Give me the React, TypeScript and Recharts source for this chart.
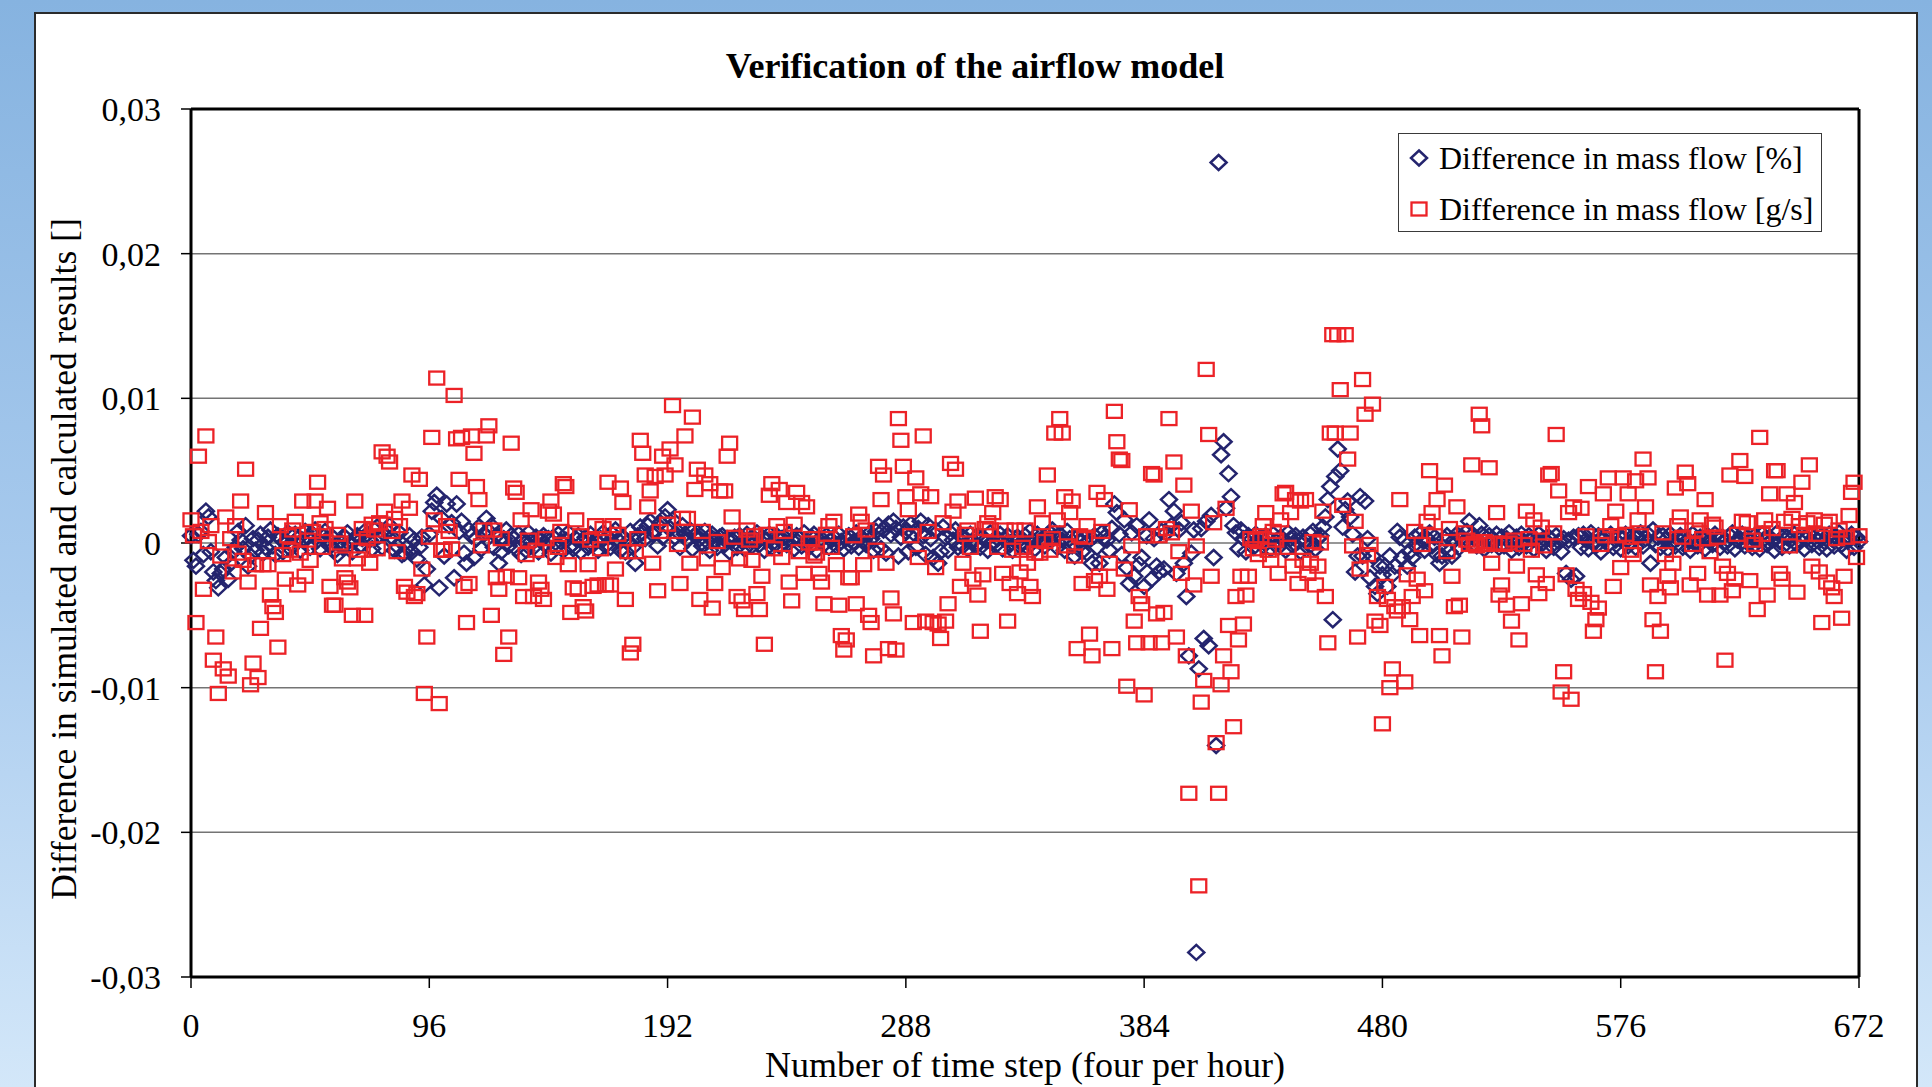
import React from 'react';
import { ScatterChart, Scatter, XAxis, YAxis, CartesianGrid, ReferenceLine } from 'recharts';

const FONT = "'Liberation Serif', 'Times New Roman', Times, serif";
const BLUE = '#24246e';
const RED = '#ec2227';

// time steps 0..672 (four per hour, one week)
const steps = Array.from({ length: 673 }, (_, i) => i);
const xTicks = [0, 96, 192, 288, 384, 480, 576, 672];
const yTicks = [-0.03, -0.02, -0.01, 0, 0.01, 0.02, 0.03];

// difference in mass flow [%], in units of 0.0001
const pctDiff = [
  5, -12, -16, 6, 8, -8, 22, 18, -6, -20, -26, -31, -21, -18, -10, -25, -14, -6, -3, 8, 2, -4, 12, -16,
  -9, 3, -5, 2, 6, -7, -3, 4, 9, -2, -8, 5, 3, -6, 1, 7, -4, -2, 6, 3, -5, 2, 8, 4,
  -3, 6, 9, 2, -4, 5, 8, 3, -2, 4, -5, -8, 1, -3, 4, 7, -1, -6, 2, 5, -2, 3, 8, 6,
  2, -4, 9, 11, 5, -3, 6, 8, 12, 4, -5, -2, 7, -8, -7, -3, 5, -6, 2, -11, -3, 4, -29, -18,
  6, 22, 28, 33, -31, 17, -9, 27, 12, 14, -24, 27, 8, 15, -7, -14, 9, 5, -10, 3, 11, -4, 6, 17,
  8, 12, -3, 5, -14, -6, 3, 9, -2, 5, 3, -4, 6, -8, 2, -5, 7, 1, -3, 4, -6, 2, 5, -2,
  3, -7, 4, -3, 6, 1, -5, 2, 7, -2, -4, 3, 5, -6, 1, 4, -3, 6, -1, 2, -5, 3, 7, -2,
  4, -3, 6, 9, 2, -5, 4, -6, 1, 8, -3, -14, 5, 11, 7, 3, 12, 15, 6, 9, -2, 14, 4, 18,
  23, 10, 16, 4, 8, -3, 12, 6, 2, 9, -4, 5, 7, 3, -2, 8, 1, -5, 6, 2, -3, 4, 5, -1,
  3, -6, 2, 4, -3, 5, 1, -4, 6, 2, -2, 3, 7, -1, 4, -5, 2, 6, -3, 1, 5, -2, 3, 4,
  -1, 6, 2, -4, 5, 3, -2, 7, 1, -3, 4, 6, -5, 2, 3, -1, 5, -3, 2, 4, -2, 6, 1, -4,
  3, 5, -2, 1, 7, -3, 4, 2, -1, 6, 3, -5, 8, 12, -4, 9, -7, 13, 6, 15, 10, -9, 4, 11,
  8, -6, 13, 7, -3, 10, 15, 5, -8, 12, 3, -10, 9, -14, -6, 11, 4, -5, 7, 2, 9, -3, 5, -2,
  3, -4, 6, 1, -2, 5, -3, 4, 2, -5, 7, 1, -2, 3, 6, -4, 2, 5, -1, -5, 3, 4, -2, 1,
  5, -3, 8, 2, -4, 6, 1, 3, -2, 5, 7, 9, 4, -3, 6, 2, -5, 8, 3, -2, -9, 4, 1, -6,
  3, -7, 2, -14, 5, -3, -14, 7, 4, 2, -5, 10, 27, 21, 6, -8, 16, -17, -28, 7, -23, 12, -15, -10,
  -30, 5, 16, -25, 3, -16, -20, 8, -18, 7, 30, 12, 22, -21, 9, 14, -14, -37, -78, -7, 9, -283, -87, 10,
  -66, 15, -71, 19, -10, -140, 263, 61, 70, 24, 48, 32, 12, 7, -4, 9, 3, -6, 5, 2, -3, 6, 1, 4,
  -2, 5, 3, -4, 6, 1, -3, 4, 2, -5, 7, 3, -2, 5, 1, -6, 4, 2, -3, 6, 8, -4, 3, 5,
  11, 18, 30, 39, -53, 46, 65, 50, 11, 23, 29, 18, 6, -20, -9, 32, -9, 29, 3, -24, -9, -30, -35, -16,
  -22, -16, -30, -9, -22, -16, 8, 4, -10, 2, -16, -6, -10, 4, -3, 6, 2, -5, 3, 7, -2, 4, -8, -14,
  -9, 3, 5, -6, -9, 2, 6, -3, 4, 1, 8, 15, 5, 3, -2, 12, 6, -4, 3, 5, -1, 2, 6, -3,
  4, -2, 3, 7, -5, 2, 4, -3, 6, 1, -2, 5, 3, -4, 2, 6, -1, 3, -5, 4, 2, -3, 5, 1,
  -6, 3, -21, 2, -25, 4, -23, 5, -3, 6, 2, -4, 7, 1, -2, 5, -6, 3, 4, -1, 6, -3, 2, 5,
  -4, 3, 6, -2, 1, 5, -3, 4, 7, -2, 3, 6, -14, 9, -1, 4, -3, 5, 2, -4, 6, 1, -2, 3,
  5, -3, 4, 2, -5, 6, 1, -2, 4, 3, -4, 5, 2, -1, 6, 3, -3, 4, 1, -2, 5, 7, -4, 2,
  3, 6, -2, 4, 1, -3, 5, 2, -4, 6, 3, -1, 4, 2, -5, 7, 1, -3, 5, 4, -2, 3, 6, -1,
  2, 5, -4, 3, 6, -1, 4, 2, -3, 5, 1, -4, 6, 3, -2, 4, 7, -1, 3, -5, 2, 6, -3, 4, 1,
];

// difference in mass flow [g/s], in units of 0.0001
const gsDiff = [
  16, 5, -55, 60, 8, -32, 74, 1, 12, -81, -65, -104, -9, -87, 18, -92, 3, -20, 12, -7, 29, -12, 51, -27,
  -98, -83, -15, -93, -59, -15, 21, -15, -36, -44, -48, -72, 12, -8, -25, 5, -5, 9, 15, -29, -7, 29, -23, 2,
  -12, 8, 29, 42, 14, -3, 10, 24, -30, -43, -43, 6, 0, -11, -24, -27, -31, -50, 29, -11, -5, 10, -50, 3,
  -14, 13, 9, -4, 14, 63, 22, 60, 56, 8, 17, -6, 12, 29, -30, -34, 24, 47, -37, -35, 44, -18, -104, -65,
  4, 73, 16, 114, -111, -5, -5, 12, 8, -4, 102, 72, 44, 73, -30, -55, -28, 74, 62, 39, 30, -2, 9, 74,
  81, -50, 9, -24, -32, 3, -77, -23, -65, 69, 38, 35, -24, 16, -37, -8, 2, 23, -37, -5, -27, -32, -39, 3,
  22, 29, 20, -10, -3, 8, 41, 39, -15, -48, -31, 16, -32, 5, -44, -47, -15, 2, -30, 12, -29, -4, 10, -29,
  42, -29, 12, -18, 6, 38, 28, -39, -6, -76, -70, -6, 3, 71, 62, 47, 25, 36, -14, 46, -33, 8, 60, 47,
  13, 65, 95, 54, -1, -28, 17, 74, 17, -14, 87, 37, 51, -39, 8, 47, -11, 41, -45, -28, 1, 36, -17, 36,
  60, 69, 18, 4, -37, -11, -40, -46, 9, 2, -12, 5, -35, -46, -23, -70, 6, 33, 41, -4, 12, 37, -10, 8,
  28, -27, -40, 13, 35, -6, 28, -21, 25, 0, 3, -9, -7, -21, -27, -42, 6, 12, -3, 15, -15, -43, -64, -74,
  -67, -24, -24, 5, -42, 20, 15, -15, 9, -50, -55, -78, -5, 53, 30, 47, -14, -73, -38, -49, -74, 86, 71, 53,
  32, 23, 5, -55, 45, -10, 34, 74, -54, 8, 32, -55, -17, -56, -66, 14, -54, -42, 55, 22, 51, 29, -30, -14,
  6, 9, -3, -25, 31, -36, -61, -22, 10, 14, 9, 21, 32, -3, 30, -21, 9, -54, -28, -5, 9, -35, -20, -3,
  9, -14, -30, -37, -7, 25, -7, 14, 1, 47, -5, 3, 76, 16, 86, 76, 32, -2, 21, 29, -9, -73, 5, -28,
  4, 12, -63, -78, -26, 35, -23, 8, 30, -32, -14, -73, 91, 70, 58, 57, -18, -99, 23, -2, -54, -69, -37, -42,
  -105, 5, -69, 48, 47, -49, 5, -69, -48, 10, 86, 7, 56, -65, -6, -21, 40, -78, -173, 22, -29, -2, -237, -110,
  -95, 120, 75, -23, 14, -138, -173, -98, -78, 24, -57, -89, -127, -37, -67, -23, -56, -36, -23, 3, -4, 2, -8, 5,
  12, 21, -5, -12, 8, 2, -21, 16, 34, 35, -3, 21, -16, 30, -28, 29, -12, 30, -21, -14, 1, -29, -16, 0,
  22, -37, -69, 76, 144, 76, 144, 106, 26, 144, 58, 76, -2, 15, -65, -18, 113, 89, -8, -1, 96, -54, -37, -57,
  -125, -30, -39, -100, -87, -44, -47, 30, -44, -96, -22, -53, -37, 8, -25, -64, -1, -33, 15, 50, 21, 5, 30, -64,
  -78, 40, -6, 10, -23, -44, 25, -43, -65, 7, 2, -1, 54, 0, -2, 89, 81, 1, -1, 52, -14, 0, 21, -36,
  -29, -1, -43, 0, -54, 2, -16, -67, -42, -1, 22, 3, -5, 16, -22, -35, 11, -2, -28, 47, 48, 7, 75, 36,
  -103, -89, -22, 21, -108, 25, -32, -39, 24, -35, 5, 39, -41, -61, -53, -45, -1, 34, 5, 45, 12, -30, 22, 5,
  -17, 45, 6, 34, -5, -8, 43, 16, 5, 58, 25, 45, -29, -53, -89, -37, -61, 7, -8, -23, -31, -14, 38, 12,
  18, 4, 49, 41, -29, -1, 9, -21, 16, 3, 30, -36, -6, 13, 11, 4, -36, -16, -81, -21, 47, -33, -25, 6,
  57, 15, 46, 14, -26, 2, -1, -46, 73, 6, 16, -36, 34, 10, 50, 50, -21, -25, 15, 34, -2, 17, 28, -34,
  12, 42, 6, 14, 54, -16, 16, 6, -20, -55, 13, -27, 15, -31, -37, 3, 9, -52, -23, 4, 19, 35, 42, -10, 5,
];

const pctData = steps.map((s, i) => ({ step: s, value: (pctDiff[i] ?? 0) / 10000 }));
const gsData = steps.map((s, i) => ({ step: s, value: (gsDiff[i] ?? 0) / 10000 }));

const fmtY = (v: number) => (v === 0 ? '0' : v.toFixed(2).replace('.', ','));

const Diamond = (props: any) => {
  const { cx, cy } = props;
  if (cx == null || cy == null) return null;
  return (
    <path
      d={`M${cx},${cy - 7.5}L${cx + 8},${cy}L${cx},${cy + 7.5}L${cx - 8},${cy}Z`}
      fill="none"
      stroke={BLUE}
      strokeWidth={2.5}
    />
  );
};

const Square = (props: any) => {
  const { cx, cy } = props;
  if (cx == null || cy == null) return null;
  return <rect x={cx - 7.5} y={cy - 6.5} width={15} height={13} fill="none" stroke={RED} strokeWidth={2.3} />;
};

const YTitle = (props: any) => {
  const vb = props.viewBox || { x: 0, y: 109, width: 191, height: 868 };
  const cx = 64;
  const cy = vb.y + vb.height / 2 + 16;
  return (
    <text
      x={cx}
      y={cy}
      transform={`rotate(-90 ${cx} ${cy})`}
      textAnchor="middle"
      dominantBaseline="central"
      fontFamily={FONT}
      fontSize={35.5}
      fill="#000"
    >
      Difference in simulated and calculated results []
    </text>
  );
};

const XTitle = (props: any) => {
  const vb = props.viewBox || { x: 191, y: 977, width: 1668, height: 110 };
  return (
    <text x={vb.x + vb.width / 2} y={vb.y + 100} textAnchor="middle" fontFamily={FONT} fontSize={36} fill="#000">
      Number of time step (four per hour)
    </text>
  );
};

const LegendRow = ({ top, marker, label }: { top: number; marker: React.ReactNode; label: string }) => (
  <div style={{ position: 'absolute', left: 0, top, height: 40, display: 'flex', alignItems: 'center' }}>
    <svg width={40} height={40} style={{ display: 'block' }}>
      {marker}
    </svg>
    <span style={{ whiteSpace: 'nowrap' }}>{label}</span>
  </div>
);

export default function App() {
  return (
    <div
      style={{
        position: 'absolute',
        left: 0,
        top: 0,
        width: 1932,
        height: 1087,
        overflow: 'hidden',
        background: 'linear-gradient(180deg, #86b3e0 0%, #a9cbee 55%, #d3e7f9 100%)',
      }}
    >
      <div
        style={{
          position: 'absolute',
          left: 34,
          top: 12,
          width: 1880,
          height: 1100,
          background: '#fff',
          border: '2px solid #2b2b2b',
        }}
      />
      <div
        style={{
          position: 'absolute',
          left: 34,
          top: 48,
          width: 1882,
          textAlign: 'center',
          fontFamily: FONT,
          fontWeight: 'bold',
          fontSize: 36,
          lineHeight: '36px',
          color: '#000',
        }}
      >
        Verification of the airflow model
      </div>
      <div style={{ position: 'absolute', left: 0, top: 0 }}>
        <ScatterChart width={1932} height={1087} margin={{ top: 109, right: 73, bottom: 0, left: 0 }}>
          <CartesianGrid vertical={false} stroke="#747474" strokeWidth={1.5} />
          <XAxis
            type="number"
            dataKey="step"
            domain={[0, 672]}
            ticks={xTicks}
            interval={0}
            height={110}
            axisLine={{ stroke: '#000', strokeWidth: 3 }}
            tickLine={{ stroke: '#000', strokeWidth: 1.5 }}
            tickSize={11}
            tickMargin={25}
            tick={{ fill: '#000', fontSize: 34, fontFamily: FONT }}
            label={{ content: XTitle }}
          />
          <YAxis
            type="number"
            dataKey="value"
            domain={[-0.03, 0.03]}
            ticks={yTicks}
            interval={0}
            width={191}
            tickFormatter={fmtY}
            axisLine={{ stroke: '#000', strokeWidth: 3 }}
            tickLine={{ stroke: '#000', strokeWidth: 1.5 }}
            tickSize={10}
            tickMargin={20}
            tick={{ fill: '#000', fontSize: 34, fontFamily: FONT }}
            label={{ content: YTitle }}
          />
          <ReferenceLine y={0.03} stroke="#000" strokeWidth={3} />
          <ReferenceLine x={672} stroke="#000" strokeWidth={3} />
          <Scatter
            name="Difference in mass flow [%]"
            data={pctData}
            shape={Diamond}
            isAnimationActive={false}
          />
          <Scatter
            name="Difference in mass flow [g/s]"
            data={gsData}
            shape={Square}
            isAnimationActive={false}
          />
        </ScatterChart>
      </div>
      <div
        style={{
          position: 'absolute',
          left: 1398,
          top: 133,
          width: 424,
          height: 99,
          boxSizing: 'border-box',
          border: '1.5px solid #3a3a3a',
          background: '#fff',
          fontFamily: FONT,
          fontSize: 32,
          color: '#000',
        }}
      >
        <LegendRow
          top={4}
          label="Difference in mass flow [%]"
          marker={<Diamond cx={20} cy={20} />}
        />
        <LegendRow
          top={55}
          label="Difference in mass flow [g/s]"
          marker={<Square cx={20} cy={20} />}
        />
      </div>
    </div>
  );
}
